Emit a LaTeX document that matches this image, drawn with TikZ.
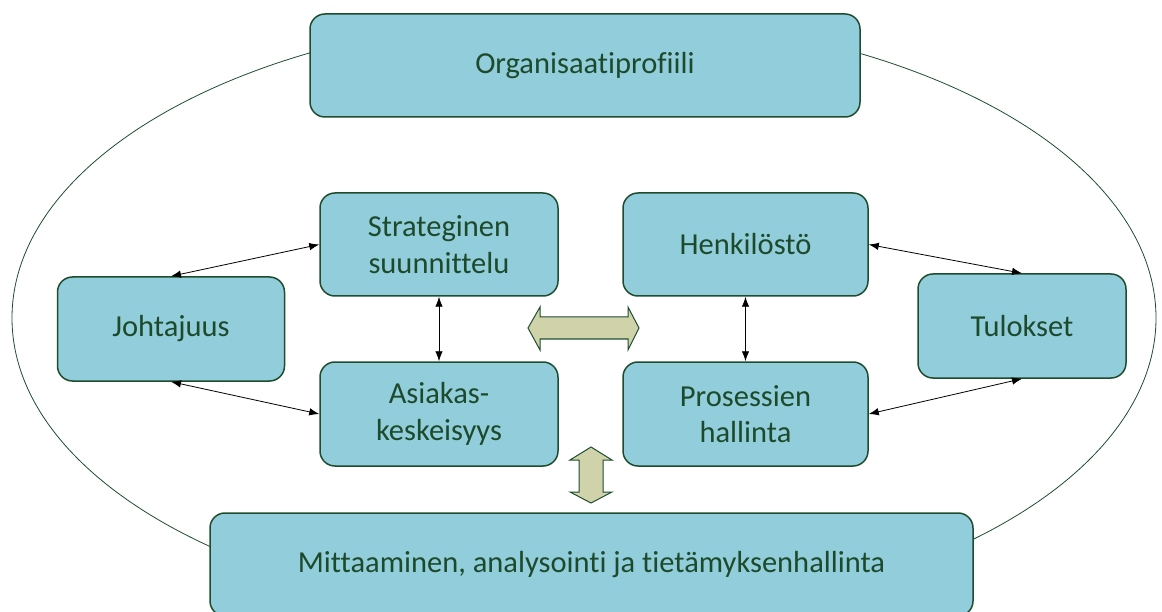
\documentclass[tikz,border=0pt]{standalone}
\usepackage{fontspec}
\setmainfont{Carlito}[Ligatures=NoCommon]
\usetikzlibrary{arrows.meta}
\definecolor{boxfill}{HTML}{92CDDC}
\definecolor{boxline}{HTML}{1E4D2E}
\definecolor{boxtext}{HTML}{1D4A2B}
\definecolor{arrowfill}{HTML}{D0D3AA}
\tikzset{
  box/.style={draw=boxline, line width=1.5pt, fill=boxfill, rounded corners=15pt,
    inner sep=0pt, align=center, text=boxtext,
    font=\fontsize{30.5}{36.5}\selectfont},
  link/.style={black, line width=0.8pt,
    {Latex[length=10pt,width=7.5pt]}-{Latex[length=10pt,width=7.5pt]}},
  blockarrow/.style={draw=boxline, line width=1pt, fill=arrowfill, line join=miter},
  ring/.style={draw=boxline, line width=0.8pt}
}
\begin{document}
\begin{tikzpicture}[x=1pt, y=-1pt]
  \useasboundingbox (0,0) rectangle (1162,612);
  % surrounding ring
  \draw[ring] (584,318) ellipse [x radius=572, y radius=302];

  % boxes
  \node[box, minimum width=550pt, minimum height=103pt] (profile) at (585,65.5) {Organisaatiprofiili};
  \node[box, minimum width=238pt, minimum height=103pt] (strat) at (439,244.5) {Strateginen\\suunnittelu};
  \node[box, minimum width=245pt, minimum height=103pt] (staff) at (745.5,244.5) {Henkilöstö};
  \node[box, minimum width=227pt, minimum height=104pt] (lead) at (171,329) {Johtajuus};
  \node[box, minimum width=208pt, minimum height=104pt] (results) at (1022,326) {Tulokset};
  \node[box, minimum width=238pt, minimum height=104pt] (cust) at (439,414) {Asiakas-\\keskeisyys};
  \node[box, minimum width=245pt, minimum height=104pt] (proc) at (745.5,414) {Prosessien\\hallinta};
  \node[box, minimum width=763pt, minimum height=103pt] (measure) at (591.5,564.5) {Mittaaminen, analysointi ja tietämyksenhallinta};

  % connectors
  \draw[link] (lead.north) -- (strat.west);
  \draw[link] (lead.south) -- (cust.west);
  \draw[link] (strat.south) -- (cust.north);
  \draw[link] (staff.south) -- (proc.north);
  \draw[link] (staff.east) -- (results.north);
  \draw[link] (proc.east) -- (results.south);

  % block arrows
  \draw[blockarrow] (528,328) -- (540,307) -- (540,317) -- (628,317) -- (628,307)
    -- (639,328) -- (628,350) -- (628,339) -- (540,339) -- (540,350) -- cycle;
  \draw[blockarrow] (591,447) -- (612,460) -- (603,460) -- (603,492) -- (612,492)
    -- (591,503) -- (570,492) -- (579,492) -- (579,460) -- (570,460) -- cycle;
\end{tikzpicture}
\end{document}
